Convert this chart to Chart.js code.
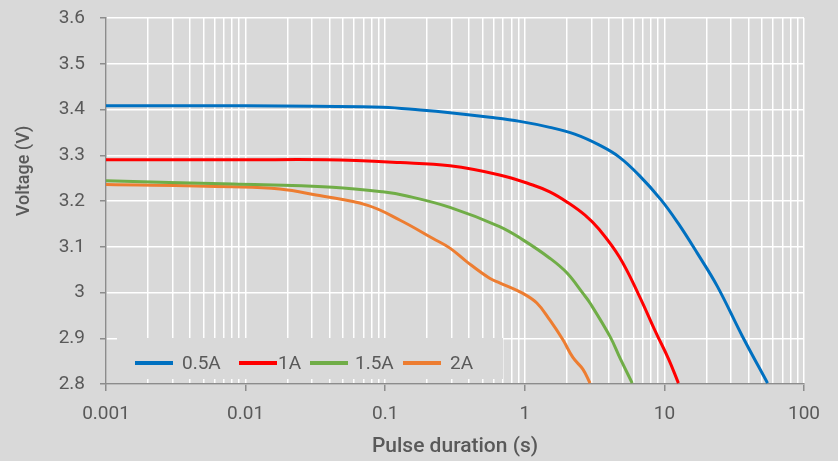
<!DOCTYPE html>
<html>
<head>
<meta charset="utf-8">
<script src="https://cdn.jsdelivr.net/npm/chart.js@4.4.1/dist/chart.umd.min.js"></script>
<style>
  html, body { margin: 0; padding: 0; background: #d9d9d9; }
  #wrap { width: 838px; height: 461px; position: relative; }
</style>
</head>
<body>
<div id="wrap"><canvas id="c"></canvas></div>
<script>
// ---- Data ----
const seriesLabels = ["0.5A", "1A", "1.5A", "2A"];
const seriesColors = ["#0070c0", "#ff0000", "#70ad47", "#ed7d31"];

const t_05A = [0.001, 0.01, 0.0314, 0.0963, 0.178, 0.291, 0.562, 0.922, 1.51, 2.28, 3.43, 4.75, 6.55, 9.5, 12.5, 17.2, 23.9, 36.1, 54.8];
const v_05A = [3.408, 3.408, 3.407, 3.405, 3.399, 3.393, 3.383, 3.374, 3.361, 3.346, 3.322, 3.296, 3.257, 3.202, 3.152, 3.086, 3.014, 2.905, 2.802];

const t_1A = [0.001, 0.01, 0.038, 0.128, 0.291, 0.66, 1.14, 1.51, 2.0, 2.7, 3.43, 4.75, 6.55, 8.65, 10.7, 12.6];
const v_1A = [3.29, 3.29, 3.29, 3.284, 3.277, 3.257, 3.235, 3.22, 3.198, 3.169, 3.137, 3.078, 2.995, 2.914, 2.855, 2.802];

const t_15A = [0.001, 0.0081, 0.042, 0.096, 0.143, 0.291, 0.66, 0.97, 1.51, 2.0, 2.61, 2.93, 4.09, 4.82, 5.88];
const v_15A = [3.244, 3.237, 3.23, 3.22, 3.211, 3.186, 3.144, 3.115, 3.075, 3.043, 2.998, 2.977, 2.903, 2.856, 2.802];

const t_2A = [0.001, 0.0081, 0.0176, 0.032, 0.074, 0.128, 0.22, 0.291, 0.385, 0.56, 0.66, 0.97, 1.22, 1.51, 1.88, 2.21, 2.61, 2.93];
const v_2A = [3.236, 3.231, 3.226, 3.213, 3.191, 3.158, 3.118, 3.097, 3.067, 3.031, 3.021, 2.998, 2.977, 2.94, 2.896, 2.858, 2.832, 2.802];

const xMajorTicks = [0.001, 0.01, 0.1, 1, 10, 100];
const xTickLabels = ["0.001", "0.01", "0.1", "1", "10", "100"];
const yTickValues = [2.8, 2.9, 3.0, 3.1, 3.2, 3.3, 3.4, 3.5, 3.6];
const yTickLabels = ["2.8", "2.9", "3", "3.1", "3.2", "3.3", "3.4", "3.5", "3.6"];

const xTitle = "Pulse duration (s)";
const yTitle = "Voltage (V)";

// ---- Build datasets ----
const seriesT = [t_05A, t_1A, t_15A, t_2A];
const seriesV = [v_05A, v_1A, v_15A, v_2A];
const datasets = seriesLabels.map((lab, i) => ({
  label: lab,
  data: seriesT[i].map((t, j) => ({ x: t, y: seriesV[i][j] })),
  borderColor: seriesColors[i],
  backgroundColor: seriesColors[i],
  borderWidth: 3,
  pointRadius: 0,
  showLine: true,
  fill: false,
  tension: 0.4
}));

const FONT = "Roboto, 'Liberation Sans', sans-serif";
const TXT = "#595959";
const AXIS = "#8c8c8c";

// Legend drawn inside the plot area (bottom-left) on a background box
const insideLegend = {
  id: 'insideLegend',
  beforeDatasetsDraw(chart) {
    const ctx = chart.ctx, a = chart.chartArea;
    ctx.save();
    ctx.fillStyle = '#d9d9d9';
    ctx.fillRect(a.left + 11, a.bottom - 46, 386, 41);
    ctx.restore();
  },
  afterDatasetsDraw(chart) {
    const ctx = chart.ctx, a = chart.chartArea;
    const lineStart = [29, 133, 204, 297];
    const textGap = [9, 1, 7, 9];
    const y = a.bottom - 21;
    ctx.save();
    ctx.font = "19px " + FONT;
    ctx.textBaseline = 'middle';
    ctx.textAlign = 'left';
    chart.data.datasets.forEach((ds, i) => {
      const x0 = a.left + lineStart[i];
      ctx.strokeStyle = ds.borderColor;
      ctx.lineWidth = 4;
      ctx.beginPath();
      ctx.moveTo(x0, y);
      ctx.lineTo(x0 + 38, y);
      ctx.stroke();
      ctx.fillStyle = TXT;
      ctx.fillText(ds.label, x0 + 38 + textGap[i], y + 1);
    });
    ctx.restore();
  }
};

// Y axis title placed as in the reference (above centre of the axis)
const yTitlePlugin = {
  id: 'yTitlePlugin',
  afterDraw(chart) {
    const ctx = chart.ctx;
    ctx.save();
    ctx.translate(24, 171);
    ctx.rotate(-Math.PI / 2);
    ctx.font = "500 18px " + FONT;
    ctx.fillStyle = TXT;
    ctx.textAlign = 'center';
    ctx.textBaseline = 'middle';
    ctx.fillText(yTitle, 0, 0);
    ctx.restore();
  }
};

new Chart(document.getElementById('c'), {
  type: 'scatter',
  data: { datasets },
  plugins: [insideLegend, yTitlePlugin],
  options: {
    responsive: true,
    maintainAspectRatio: false,
    animation: false,
    layout: { padding: { left: 0, right: 34, top: 18, bottom: 0 } },
    plugins: { legend: { display: false }, tooltip: { enabled: false } },
    scales: {
      x: {
        type: 'logarithmic',
        min: 0.001, max: 100,
        afterBuildTicks(scale) {
          const ticks = [];
          xMajorTicks.forEach((m, k) => {
            ticks.push({ value: m, major: true });
            if (k < xMajorTicks.length - 1) {
              for (let s = 2; s <= 9; s++) ticks.push({ value: m * s, major: false });
            }
          });
          scale.ticks = ticks;
        },
        afterFit(scale) {
          scale.height = 461 - 384;
          scale.paddingLeft = 0; scale.paddingRight = 0;
        },
        grid: {
          color: '#ffffff',
          lineWidth: 1.5,
          drawTicks: true,
          tickLength: 7,
          tickColor: (c) => (c.tick && c.tick.major ? AXIS : 'rgba(0,0,0,0)'),
          tickWidth: 1.5
        },
        border: { color: AXIS, width: 1.5 },
        ticks: {
          autoSkip: false,
          maxRotation: 0,
          color: TXT,
          padding: 12,
          font: { family: FONT, size: 19 },
          callback(v) {
            const k = xMajorTicks.findIndex(m => Math.abs(m - v) / m < 1e-6);
            return k >= 0 ? xTickLabels[k] : '';
          }
        },
        title: {
          display: true, text: xTitle, color: TXT,
          font: { family: FONT, size: 21, weight: '500' },
          padding: { top: 0, bottom: 2 }
        }
      },
      y: {
        min: 2.8, max: 3.6,
        afterBuildTicks(scale) { scale.ticks = yTickValues.map(v => ({ value: v })); },
        afterFit(scale) {
          scale.width = 106;
          scale.paddingTop = 0; scale.paddingBottom = 0;
        },
        grid: {
          color: '#ffffff',
          lineWidth: 1.5,
          tickLength: 6,
          tickColor: AXIS,
          tickWidth: 1.5
        },
        border: { color: AXIS, width: 1.5 },
        ticks: {
          color: TXT,
          padding: 15,
          font: { family: FONT, size: 19 },
          callback(v) {
            const k = yTickValues.findIndex(m => Math.abs(m - v) < 1e-6);
            return k >= 0 ? yTickLabels[k] : '';
          }
        },
        title: { display: false }
      }
    }
  }
});
</script>
</body>
</html>
